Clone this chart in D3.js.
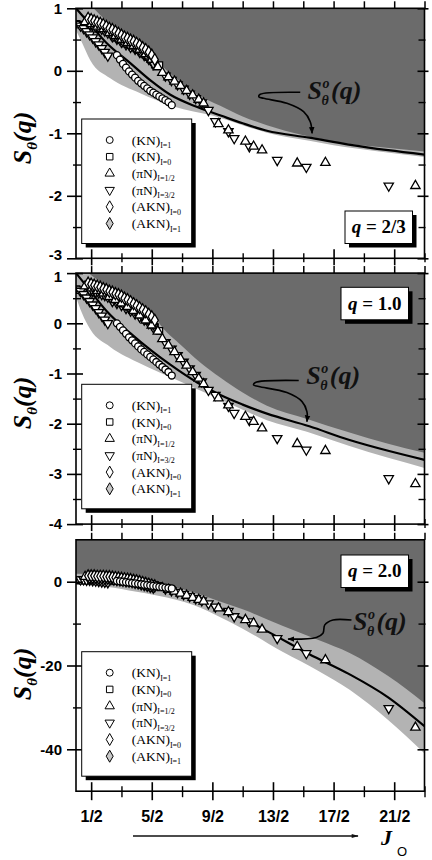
<!DOCTYPE html>
<html><head><meta charset="utf-8">
<script src="https://cdn.jsdelivr.net/npm/d3@7/dist/d3.min.js"></script>
<style>html,body{margin:0;padding:0;background:#fff;}svg{display:block;}</style>
</head><body>
<svg id="chart" width="432" height="860"></svg>
<script>
// ---------------- data ----------------
const xMajorTicks = [0.5, 2.5, 4.5, 6.5, 8.5, 10.5];
const xTickLabels = ["1/2", "5/2", "9/2", "13/2", "17/2", "21/2"];
const xMinorTicks = [1.5, 3.5, 5.5, 7.5, 9.5, 11.5];
const qLabels = ["2/3", "1.0", "2.0"];
const legendNames = ["(KN)", "(KN)", "(\u03C0N)", "(\u03C0N)", "(AKN)", "(AKN)"];
const legendSubs = ["I=1", "I=0", "I=1/2", "I=3/2", "I=0", "I=1"];

// (KN) I=1  circles
const kn1X   = [1.35,1.45,1.55,1.65,1.75,1.85,1.95,2.05,2.15,2.25,2.35,2.45,2.55,2.65,2.75,2.85,2.95,3.05,3.16];
const kn1Y23 = [0.25,0.18,0.11,0.05,-0.01,-0.06,-0.11,-0.16,-0.20,-0.24,-0.28,-0.32,-0.35,-0.38,-0.41,-0.44,-0.47,-0.50,-0.55];
const kn1Y10 = [0.0,-0.07,-0.14,-0.21,-0.28,-0.34,-0.40,-0.46,-0.52,-0.57,-0.62,-0.67,-0.72,-0.77,-0.82,-0.87,-0.92,-0.97,-1.04];
const kn1Y20 = [0.2,0.1,0.0,-0.1,-0.2,-0.3,-0.4,-0.5,-0.6,-0.7,-0.8,-0.9,-1.0,-1.1,-1.2,-1.3,-1.4,-1.5,-1.6];

// (KN) I=0  squares
const kn0X   = [0.02,0.12,0.22,0.32,0.42,1.4,1.5,1.6,1.7,1.8,1.9,2.0,2.1,2.2,2.3,2.4,2.5,2.6,2.75];
const kn0Y23 = [0.75,0.74,0.72,0.69,0.66,0.52,0.49,0.46,0.44,0.41,0.39,0.36,0.33,0.29,0.26,0.22,0.17,0.10,0.09];
const kn0Y10 = [0.68,0.66,0.63,0.60,0.56,0.44,0.41,0.37,0.34,0.30,0.26,0.22,0.18,0.14,0.10,0.05,0.0,-0.07,-0.15];
const kn0Y20 = [0.3,0.3,0.3,0.3,0.3,0.9,0.8,0.7,0.6,0.5,0.4,0.3,0.1,-0.1,-0.3,-0.5,-0.7,-0.9,-1.0];

// (piN) I=1/2  up triangles
const pi1X   = [0.3,0.5,0.7,0.9,1.1,1.3,1.5,1.7,1.9,2.1,2.3,2.5,2.7,2.85,3.05,3.25,3.45,3.65,3.85,4.05,4.21,4.70,5.03,5.59,5.86,6.14,7.30,8.23,11.2];
const pi1Y23 = [0.78,0.75,0.71,0.67,0.61,0.56,0.50,0.45,0.40,0.34,0.27,0.18,0.06,-0.03,-0.10,-0.17,-0.24,-0.32,-0.39,-0.46,-0.52,-0.85,-0.95,-1.13,-1.21,-1.27,-1.48,-1.47,-1.84];
const pi1Y10 = [0.74,0.70,0.65,0.60,0.53,0.47,0.40,0.33,0.25,0.16,0.06,-0.04,-0.16,-0.31,-0.44,-0.57,-0.71,-0.84,-0.97,-1.10,-1.21,-1.49,-1.63,-1.86,-1.96,-2.09,-2.40,-2.54,-3.20];
const pi1Y20 = [1.2,1.1,1.0,0.9,0.8,0.6,0.4,0.2,-0.1,-0.4,-0.7,-1.0,-1.3,-1.5,-1.9,-2.3,-2.8,-3.3,-3.8,-4.3,-4.7,-6.3,-7.2,-9.1,-9.9,-11.4,-15.5,-18.7,-34.8];

// (piN) I=3/2  down triangles
const pi3X   = [0.15,0.25,0.35,0.45,0.55,0.65,0.75,0.85,0.95,1.05,1.2,1.35,1.5,1.65,1.8,1.95,2.1,2.25,2.4,2.55,2.95,3.15,3.35,3.55,3.75,3.95,4.15,4.37,4.60,5.03,5.22,5.72,6.64,7.60,10.32];
const pi3Y23 = [0.72,0.68,0.63,0.58,0.53,0.47,0.42,0.36,0.30,0.24,0.55,0.51,0.46,0.42,0.38,0.35,0.30,0.25,0.19,0.11,-0.08,-0.15,-0.22,-0.29,-0.37,-0.44,-0.51,-0.63,-0.81,-0.97,-1.08,-1.21,-1.43,-1.54,-1.84];
const pi3Y10 = [0.64,0.58,0.51,0.44,0.37,0.30,0.22,0.15,0.07,0.0,0.44,0.40,0.36,0.30,0.25,0.19,0.13,0.07,0.0,-0.08,-0.38,-0.51,-0.64,-0.77,-0.90,-1.03,-1.16,-1.33,-1.43,-1.65,-1.79,-1.93,-2.29,-2.52,-3.09];
const pi3Y20 = [0.5,0.5,0.4,0.4,0.3,0.2,0.1,0.0,-0.1,-0.2,0.7,0.6,0.5,0.4,0.3,0.1,-0.1,-0.3,-0.5,-0.7,-1.7,-2.1,-2.5,-3.0,-3.5,-4.0,-4.5,-5.2,-6.0,-7.0,-8.3,-9.5,-13.5,-17.1,-30.2];

// (AKN) I=0  open diamonds
const akn0X   = [0.4,0.5,0.6,0.7,0.8,0.9,1.0,1.1,1.2,1.3,1.4,1.5,1.6,1.7,1.8,1.9,2.0,2.1,2.2,2.3,2.4,2.5,2.6];
const akn0Y23 = [0.84,0.82,0.80,0.78,0.76,0.74,0.71,0.68,0.66,0.63,0.60,0.57,0.54,0.52,0.49,0.47,0.44,0.41,0.37,0.34,0.30,0.25,0.18];
const akn0Y10 = [0.80,0.78,0.76,0.74,0.72,0.69,0.67,0.64,0.62,0.59,0.57,0.54,0.50,0.47,0.43,0.39,0.35,0.31,0.27,0.23,0.18,0.13,0.06];
const akn0Y20 = [1.4,1.4,1.4,1.3,1.3,1.3,1.2,1.2,1.1,1.0,0.9,0.8,0.7,0.6,0.5,0.3,0.2,0.0,-0.2,-0.4,-0.6,-0.8,-1.0];

// (AKN) I=1  grey diamonds
const akn1X   = [0.45,0.55,0.65,0.75,0.85,0.95,1.05,1.15,1.25,1.35,1.45,1.55,1.65,1.75,1.85,1.95,2.05,2.15,2.25,2.35,2.45,2.55];
const akn1Y23 = [0.76,0.74,0.72,0.70,0.68,0.65,0.62,0.60,0.57,0.54,0.51,0.48,0.46,0.43,0.41,0.38,0.35,0.31,0.28,0.24,0.19,0.13];
const akn1Y10 = [0.68,0.66,0.64,0.62,0.59,0.57,0.54,0.52,0.49,0.47,0.44,0.41,0.37,0.34,0.30,0.26,0.22,0.18,0.14,0.09,0.04,-0.01];
const akn1Y20 = [1.0,1.0,1.0,0.9,0.9,0.8,0.8,0.7,0.6,0.5,0.4,0.3,0.2,0.1,0.0,-0.2,-0.3,-0.5,-0.7,-0.9,-1.1,-1.3];

// S_theta^o(q) curve
const curveX   = [0, 0.4, 1.0, 1.8, 2.5, 3.1, 4.0, 4.8, 5.5, 6.3, 7.7, 9.0, 10.3, 11.5];
const curveY23 = [1.0, 0.78, 0.45, 0.12, -0.17, -0.38, -0.58, -0.72, -0.84, -0.96, -1.07, -1.18, -1.27, -1.34];
const curveY10 = [1.0, 0.70, 0.25, -0.20, -0.55, -0.82, -1.18, -1.44, -1.62, -1.80, -2.05, -2.32, -2.54, -2.72];
const curveY20 = [0.2, 0.0, -0.3, -0.8, -1.5, -2.3, -4.3, -6.6, -8.8, -11.8, -17.3, -22.0, -27.6, -34.5];

// upper (dark) and lower (light) limits of the grey band
const upperX23 = [0.58, 1.0, 1.5, 2.0, 2.5, 2.9, 3.44, 4.0, 4.76, 5.5, 6.3, 7.5, 8.5, 10.0, 11.5];
const upperY23 = [1.0, 0.80, 0.64, 0.49, 0.30, 0.05, -0.17, -0.38, -0.56, -0.73, -0.87, -1.03, -1.13, -1.22, -1.29];
const lowerX23 = [0, 0.2, 0.47, 1.13, 2.12, 3.22, 4.53, 5.5, 6.3, 7.7, 8.5, 10.0, 11.5];
const lowerY23 = [0.65, 0.45, 0.17, -0.12, -0.36, -0.57, -0.72, -0.87, -0.99, -1.12, -1.19, -1.29, -1.38];
const upperX10 = [0.41, 1.0, 1.5, 2.0, 2.5, 2.9, 3.44, 4.1, 4.76, 5.5, 6.3, 7.6, 9.0, 10.3, 11.5];
const upperY10 = [1.0, 0.75, 0.61, 0.42, 0.20, -0.12, -0.42, -0.78, -1.08, -1.38, -1.64, -1.90, -2.17, -2.40, -2.58];
const lowerX10 = [0, 0.2, 0.47, 1.13, 2.12, 3.22, 4.54, 5.5, 6.3, 7.62, 9.0, 10.3, 11.5];
const lowerY10 = [0.53, 0.20, -0.12, -0.47, -0.80, -1.10, -1.46, -1.72, -1.93, -2.16, -2.44, -2.68, -2.88];
const upperX20 = [0, 1, 2, 3, 4, 4.63, 5.5, 6.83, 8.0, 9.03, 10.3, 11.5];
const upperY20 = [1.9, 1.7, 0.7, -0.8, -2.8, -4.4, -6.6, -10.6, -13.9, -17.0, -22.5, -29.0];
const lowerX20 = [0, 1, 2, 3, 4.2, 4.63, 5.5, 6.83, 8.0, 9.03, 10.3, 11.5];
const lowerY20 = [-0.6, -1.2, -2.4, -3.8, -6.5, -8.0, -11.2, -16.8, -21.3, -25.8, -33.0, -41.0];

// annotation arrows (data units) and label anchors
const arrowX23 = [7.40, 6.08, 6.03, 6.19, 6.96, 7.51, 7.73, 7.79];
const arrowY23 = [-0.344, -0.376, -0.414, -0.44, -0.52, -0.654, -0.814, -1.0];
const arrowX10 = [7.35, 5.92, 5.86, 6.03, 6.96, 7.46, 7.62, 7.62];
const arrowY10 = [-1.14, -1.18, -1.23, -1.26, -1.38, -1.56, -1.76, -1.96];
const arrowX20 = [9.09, 8.48, 8.21, 8.15, 7.93, 7.0];
const arrowY20 = [-9.14, -9.14, -10.3, -12.3, -13.3, -13.7];
const labelAt23 = [7.64, -0.456];
const labelAt10 = [7.60, -1.21];
const labelAt20 = [9.14, -11.5];

// ---------------- drawing ----------------
const SANS = "'Liberation Sans', Arial, sans-serif";
const SERIF = "'Liberation Serif', 'Times New Roman', serif";
const DARK = "#6b6b6b", LIGHT = "#b3b3b3";
const zip = (xs, ys) => xs.map((v, i) => [v, ys[i]]);

const svg = d3.select("#chart");
const defs = svg.append("defs");
defs.append("marker").attr("id", "ah").attr("viewBox", "0 0 10 10").attr("refX", 9).attr("refY", 5)
  .attr("markerWidth", 7).attr("markerHeight", 7).attr("markerUnits", "userSpaceOnUse").attr("orient", "auto")
  .append("path").attr("d", "M0,1 L10,5 L0,9 Z").attr("fill", "#000");
defs.append("marker").attr("id", "ah2").attr("viewBox", "0 0 10 10").attr("refX", 9).attr("refY", 5)
  .attr("markerWidth", 9).attr("markerHeight", 7).attr("markerUnits", "userSpaceOnUse").attr("orient", "auto")
  .append("path").attr("d", "M0,2 L10,5 L0,8 Z").attr("fill", "#111");

const x = d3.scaleLinear().domain([0, 11.5]).range([76, 424.5]);

const series = [
  {id: "kn0", type: d3.symbolSquare, rot: 0, fill: "#fff", size: 42, xs: kn0X, ys: [kn0Y23, kn0Y10, kn0Y20]},
  {id: "pi3", type: d3.symbolTriangle, rot: 180, fill: "#fff", size: 38, xs: pi3X, ys: [pi3Y23, pi3Y10, pi3Y20]},
  {id: "akn1", type: d3.symbolDiamond, rot: 0, fill: "#c8c8c8", size: 42, xs: akn1X, ys: [akn1Y23, akn1Y10, akn1Y20]},
  {id: "pi1", type: d3.symbolTriangle, rot: 0, fill: "#fff", size: 38, xs: pi1X, ys: [pi1Y23, pi1Y10, pi1Y20]},
  {id: "akn0", type: d3.symbolDiamond, rot: 0, fill: "#fff", size: 42, xs: akn0X, ys: [akn0Y23, akn0Y10, akn0Y20]},
  {id: "kn1", type: d3.symbolCircle, rot: 0, fill: "#fff", size: 38, xs: kn1X, ys: [kn1Y23, kn1Y10, kn1Y20]}
];
const legendOrder = ["kn1", "kn0", "pi1", "pi3", "akn0", "akn1"];

const panels = [
  {top: 8.3, bottom: 258.3, dom: [-3, 1], major: [1, 0, -1, -2, -3], minor: [0.5, -0.5, -1.5, -2.5],
   curve: curveY23, upX: upperX23, upY: upperY23, loX: lowerX23, loY: lowerY23,
   arX: arrowX23, arY: arrowY23, lab: labelAt23, legTop: 119, qBox: [345, 211], titleY: 138, xlab: false},
  {top: 273.1, bottom: 524.1, dom: [-4, 1], major: [1, 0, -1, -2, -3, -4], minor: [0.5, -0.5, -1.5, -2.5, -3.5],
   curve: curveY10, upX: upperX10, upY: upperY10, loX: lowerX10, loY: lowerY10,
   arX: arrowX10, arY: arrowY10, lab: labelAt10, legTop: 384.3, qBox: [341, 287.3], titleY: 403, xlab: false},
  {top: 539.8, bottom: 791.2, dom: [-50, 10], major: [0, -20, -40], minor: [-10, -30],
   curve: curveY20, upX: upperX20, upY: upperY20, loX: lowerX20, loY: lowerY20,
   arX: arrowX20, arY: arrowY20, lab: labelAt20, legTop: 651.7, qBox: [341, 555], titleY: 674, xlab: true}
];

function styleTicks(sel, sw) {
  sel.select(".domain").remove();
  sel.selectAll(".tick line").attr("stroke", "#000").attr("stroke-width", sw);
}

panels.forEach((p, pi) => {
  const y = d3.scaleLinear().domain(p.dom).range([p.bottom, p.top]);
  const g = svg.append("g");
  const x0 = x.range()[0], x1 = x.range()[1];
  const clipId = "clip" + pi;
  defs.append("clipPath").attr("id", clipId).append("rect")
    .attr("x", x0).attr("y", p.top).attr("width", x1 - x0).attr("height", p.bottom - p.top);
  const plot = g.append("g").attr("clip-path", `url(#${clipId})`);

  // grey band and dark excluded region
  const toTop = d3.area().x(d => x(d[0])).y0(y(p.dom[1]) - 2).y1(d => y(d[1])).curve(d3.curveMonotoneX);
  plot.append("path").datum(zip(p.loX, p.loY)).attr("d", toTop).attr("fill", LIGHT);
  plot.append("path").datum(zip(p.upX, p.upY)).attr("d", toTop).attr("fill", DARK);

  // S_theta^o(q)
  plot.append("path").datum(zip(curveX, p.curve))
    .attr("d", d3.line().x(d => x(d[0])).y(d => y(d[1])).curve(d3.curveMonotoneX))
    .attr("fill", "none").attr("stroke", "#000").attr("stroke-width", 2.2);

  // data points
  series.forEach(s => {
    const sym = d3.symbol().type(s.type).size(s.size)();
    plot.append("g").selectAll("path").data(zip(s.xs, s.ys[pi])).join("path")
      .attr("d", sym)
      .attr("transform", d => `translate(${x(d[0])},${y(d[1])}) rotate(${s.rot})`)
      .attr("fill", s.fill).attr("stroke", "#000").attr("stroke-width", 1.3);
  });

  // frame
  g.append("rect").attr("x", x0).attr("y", p.top).attr("width", x1 - x0).attr("height", p.bottom - p.top)
    .attr("fill", "none").attr("stroke", "#000").attr("stroke-width", 1.6);

  // left axis
  const la = g.append("g").attr("transform", `translate(${x0},0)`)
    .call(d3.axisLeft(y).tickValues(p.major).tickSize(9).tickPadding(5).tickFormat(d => String(d)));
  styleTicks(la, 1.6);
  la.selectAll(".tick line").attr("x1", 7);
  la.selectAll(".tick text").attr("font-family", SANS).attr("font-weight", "bold").attr("font-size", 15).attr("fill", "#000");
  if (pi === 0) la.selectAll(".tick text").filter(d => d === p.dom[0]).attr("dy", "0.05em");
  if (pi === 1) la.selectAll(".tick text").filter(d => d === p.dom[1]).attr("dy", "0.55em");
  const lm = g.append("g").attr("transform", `translate(${x0},0)`)
    .call(d3.axisLeft(y).tickValues(p.minor).tickSize(3).tickFormat(""));
  styleTicks(lm, 1.4);
  lm.selectAll(".tick line").attr("x1", 5);

  // right axis
  const ra = g.append("g").attr("transform", `translate(${x1},0)`)
    .call(d3.axisRight(y).tickValues(p.major).tickSize(4).tickFormat(""));
  styleTicks(ra, 1.6);
  ra.selectAll(".tick line").attr("x1", -7);
  const rm = g.append("g").attr("transform", `translate(${x1},0)`)
    .call(d3.axisRight(y).tickValues(p.minor).tickSize(1).tickFormat(""));
  styleTicks(rm, 1.4);
  rm.selectAll(".tick line").attr("x1", -6);

  // top axis (outward ticks)
  const ta = g.append("g").attr("transform", `translate(0,${p.top})`)
    .call(d3.axisTop(x).tickValues(xMajorTicks.concat(xMinorTicks)).tickSize(7).tickFormat(""));
  styleTicks(ta, 1.5);

  // bottom axis (crossing ticks)
  const ba = g.append("g").attr("transform", `translate(0,${p.bottom})`)
    .call(d3.axisBottom(x).tickValues(xMajorTicks).tickSize(p.xlab ? 9 : 7).tickPadding(10)
      .tickFormat((d, i) => p.xlab ? xTickLabels[i] : ""));
  styleTicks(ba, 1.6);
  ba.selectAll(".tick line").attr("y1", -9);
  ba.selectAll(".tick text").attr("font-family", SANS).attr("font-weight", "bold").attr("font-size", 16).attr("fill", "#000");
  const bm = g.append("g").attr("transform", `translate(0,${p.bottom})`)
    .call(d3.axisBottom(x).tickValues(xMinorTicks).tickSize(p.xlab ? 6 : 4).tickFormat(""));
  styleTicks(bm, 1.4);
  bm.selectAll(".tick line").attr("y1", -5);

  // y title  S_theta(q)
  const tt = g.append("text").attr("transform", `translate(31,${p.titleY}) rotate(-90)`)
    .attr("text-anchor", "middle").attr("font-family", SERIF).attr("font-weight", "bold")
    .attr("font-style", "italic").attr("font-size", 26).attr("fill", "#000");
  tt.append("tspan").text("S");
  tt.append("tspan").attr("font-size", 15).attr("dy", 6).text("\u03B8");
  tt.append("tspan").attr("dy", -6).text("(q)");

  // legend
  const lx = 81.7, lw = 110, lh = 124.5, ly = p.legTop;
  g.append("rect").attr("x", lx + 4).attr("y", ly + 4).attr("width", lw).attr("height", lh).attr("fill", "#000");
  g.append("rect").attr("x", lx).attr("y", ly).attr("width", lw).attr("height", lh)
    .attr("fill", "#fff").attr("stroke", "#000").attr("stroke-width", 1);
  legendOrder.forEach((id, i) => {
    const s = series.find(t => t.id === id);
    const cy = ly + 21 + i * 16.7;
    g.append("path").attr("d", d3.symbol().type(s.type).size(s.size)())
      .attr("transform", `translate(${lx + 28},${cy}) rotate(${s.rot})`)
      .attr("fill", s.fill).attr("stroke", "#000").attr("stroke-width", 1);
    const t = g.append("text").attr("x", lx + 50).attr("y", cy + 4.5)
      .attr("font-family", SERIF).attr("font-size", 13.5).attr("fill", "#000");
    t.append("tspan").text(legendNames[i]);
    t.append("tspan").attr("font-size", 8).attr("dy", 3.5).text(legendSubs[i]);
  });

  // q box
  const [qx, qy] = p.qBox, qw = 67.5, qh = 32.5;
  g.append("rect").attr("x", qx + 4).attr("y", qy + 4).attr("width", qw).attr("height", qh).attr("fill", "#000");
  g.append("rect").attr("x", qx).attr("y", qy).attr("width", qw).attr("height", qh)
    .attr("fill", "#fff").attr("stroke", "#000").attr("stroke-width", 1);
  const qt = g.append("text").attr("x", qx + qw / 2).attr("y", qy + qh / 2 + 6).attr("text-anchor", "middle")
    .attr("font-family", SERIF).attr("font-weight", "bold").attr("font-size", 19).attr("fill", "#000");
  qt.append("tspan").attr("font-style", "italic").text("q");
  qt.append("tspan").text(" = " + qLabels[pi]);

  // S_theta^o(q) annotation
  g.append("path").datum(zip(p.arX, p.arY))
    .attr("d", d3.line().x(d => x(d[0])).y(d => y(d[1])).curve(d3.curveCatmullRom))
    .attr("fill", "none").attr("stroke", "#000").attr("stroke-width", 1.6).attr("marker-end", "url(#ah)");
  const ax = x(p.lab[0]), ay = y(p.lab[1]);
  const sT = g.append("text").attr("x", ax).attr("y", ay).attr("font-family", SERIF).attr("font-weight", "bold")
    .attr("font-style", "italic").attr("font-size", 26).attr("fill", "#111").text("S");
  const sw = sT.node().getComputedTextLength();
  g.append("text").attr("x", ax + sw + 0.5).attr("y", ay - 11).attr("font-family", SERIF).attr("font-weight", "bold")
    .attr("font-style", "italic").attr("font-size", 14).attr("fill", "#111").text("o");
  g.append("text").attr("x", ax + sw - 0.5).attr("y", ay + 6).attr("font-family", SERIF).attr("font-weight", "bold")
    .attr("font-style", "italic").attr("font-size", 14).attr("fill", "#111").text("\u03B8");
  g.append("text").attr("x", ax + sw + 9).attr("y", ay).attr("font-family", SERIF).attr("font-weight", "bold")
    .attr("font-style", "italic").attr("font-size", 26).attr("fill", "#111").text("(q)");
});

// x-axis title with arrow
svg.append("line").attr("x1", 133).attr("y1", 836).attr("x2", 358).attr("y2", 836)
  .attr("stroke", "#111").attr("stroke-width", 1.5).attr("marker-end", "url(#ah2)");
svg.append("text").attr("x", 381).attr("y", 845).attr("font-family", SERIF).attr("font-weight", "bold")
  .attr("font-style", "italic").attr("font-size", 22).attr("fill", "#000").text("J");
svg.append("text").attr("x", 397).attr("y", 856).attr("font-family", SANS)
  .attr("font-size", 13).attr("fill", "#000").text("O");
</script>
</body></html>
